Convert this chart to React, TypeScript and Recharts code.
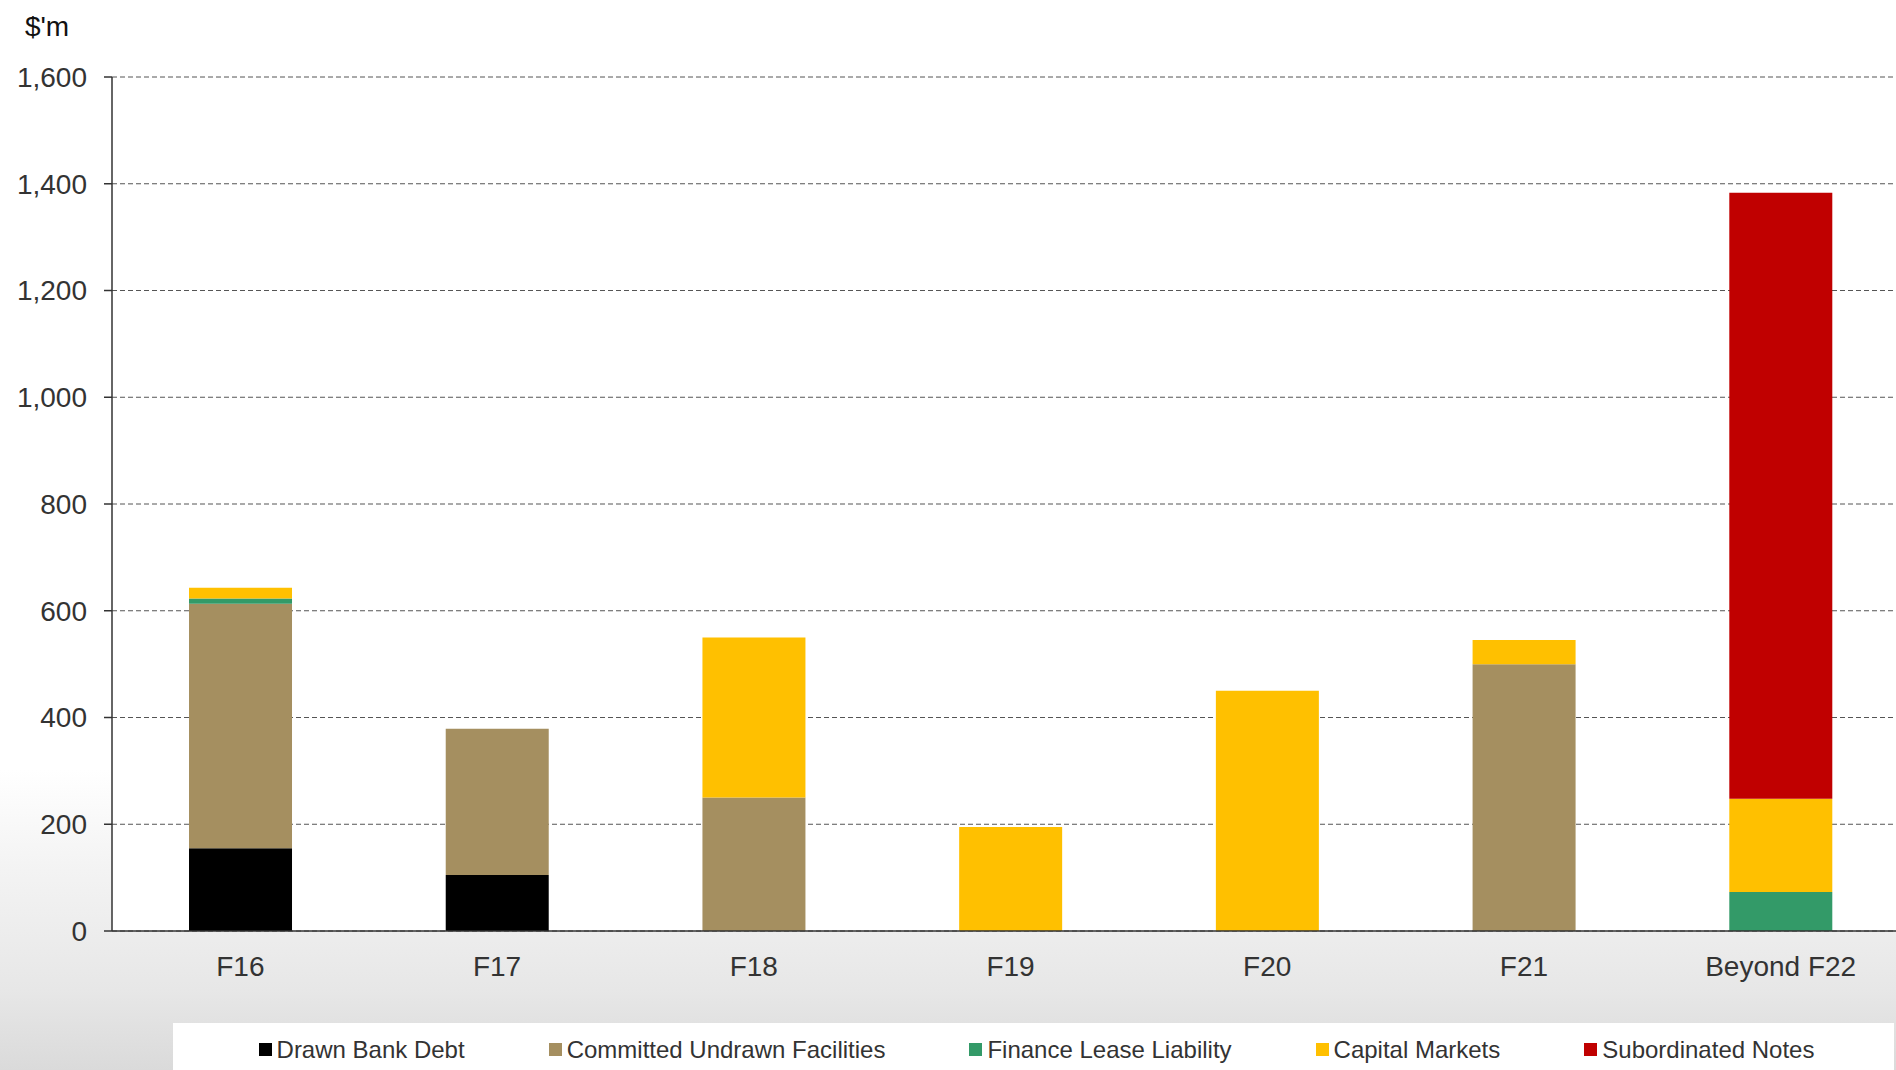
import React from "react";
import { BarChart, Bar, XAxis, YAxis, CartesianGrid, Legend } from "recharts";

const categories = ["F16", "F17", "F18", "F19", "F20", "F21", "Beyond F22"];
const drawnBankDebt = [155, 105, 0, 0, 0, 0, 0];
const committedUndrawn = [458, 274, 250, 0, 0, 500, 0];
const financeLease = [10, 0, 0, 0, 0, 0, 73];
const capitalMarkets = [20, 0, 300, 195, 450, 45, 175];
const subordinatedNotes = [0, 0, 0, 0, 0, 0, 1135];
const yTicks = [0, 200, 400, 600, 800, 1000, 1200, 1400, 1600];
const boundaryTicks = [0, 1, 2, 3, 4, 5, 6, 7];

const series = [
  { key: "drawn", name: "Drawn Bank Debt", color: "#000000", values: drawnBankDebt },
  { key: "committed", name: "Committed Undrawn Facilities", color: "#A58F60", values: committedUndrawn },
  { key: "finance", name: "Finance Lease Liability", color: "#339A68", values: financeLease },
  { key: "capital", name: "Capital Markets", color: "#FFC000", values: capitalMarkets },
  { key: "sub", name: "Subordinated Notes", color: "#C00000", values: subordinatedNotes },
];

const data = categories.map((c, i) => {
  const row: any = { name: c, idx: i + 0.5 };
  series.forEach((s) => {
    row[s.key] = s.values[i];
  });
  return row;
});

const FONT = "'Liberation Sans', Arial, sans-serif";

const axisStroke = { stroke: "#333", strokeWidth: 1.5 };
const tickStyle = { fill: "#333", fontSize: 28, fontFamily: FONT };
const yFormatter = (v: number) => v.toLocaleString("en-US");
const yLabel = {
  value: "$'m",
  position: "top" as const,
  offset: 41,
  dx: -9,
  fill: "#111",
  fontSize: 28,
  fontFamily: FONT,
};
const legendWrapper = {
  position: "absolute" as const,
  left: 173,
  bottom: 0,
  width: 1721,
  height: 47,
  background: "#ffffff",
};
const margin = { top: 77, right: 0, left: 0, bottom: 0 };

const LegendContent = () => (
  <div
    style={{
      display: "flex",
      justifyContent: "center",
      alignItems: "center",
      height: "100%",
      boxSizing: "border-box",
      paddingTop: 6,
      paddingLeft: 6,
      gap: 84,
      fontFamily: FONT,
      fontSize: 24,
      color: "#333",
    }}
  >
    {series.map((s) => (
      <div key={s.key} style={{ display: "flex", alignItems: "center" }}>
        <span style={{ width: 13, height: 13, background: s.color, display: "inline-block", marginRight: 5 }} />
        <span>{s.name}</span>
      </div>
    ))}
  </div>
);

export default function App() {
  return (
    <div
      style={{
        position: "fixed",
        left: 0,
        top: 0,
        width: 1896,
        height: 1070,
        overflow: "hidden",
        background:
          "linear-gradient(to bottom, #ffffff 0px, #ffffff 770px, #f3f3f3 870px, #e7e7e7 990px, #dadada 1070px)",
        fontFamily: FONT,
      }}
    >
      <BarChart width={1909} height={1070} data={data} barCategoryGap="30%" margin={margin}>
        <CartesianGrid xAxisId={1} vertical={false} horizontal={true} stroke="#555" strokeDasharray="5 3" fill="#ffffff" fillOpacity={1} />
        <XAxis
          xAxisId={0}
          type="number"
          dataKey="idx"
          domain={[0, 7]}
          ticks={boundaryTicks}
          height={8}
          tick={false}
          tickSize={8}
          axisLine={axisStroke}
          tickLine={axisStroke}
        />
        <XAxis
          xAxisId={1}
          dataKey="name"
          height={84}
          axisLine={false}
          tickLine={false}
          tickSize={0}
          tickMargin={17}
          interval={0}
          tick={tickStyle}
        />
        <YAxis
          width={112}
          domain={[0, 1600]}
          ticks={yTicks}
          interval={0}
          tickFormatter={yFormatter}
          tick={tickStyle}
          tickSize={8}
          tickMargin={17}
          axisLine={axisStroke}
          tickLine={axisStroke}
          label={yLabel}
        />
        <Legend verticalAlign="bottom" content={<LegendContent />} wrapperStyle={legendWrapper} />
        {series.map((s) => (
          <Bar
            key={s.key}
            xAxisId={1}
            dataKey={s.key}
            name={s.name}
            stackId="a"
            fill={s.color}
            isAnimationActive={false}
          />
        ))}
      </BarChart>
    </div>
  );
}
